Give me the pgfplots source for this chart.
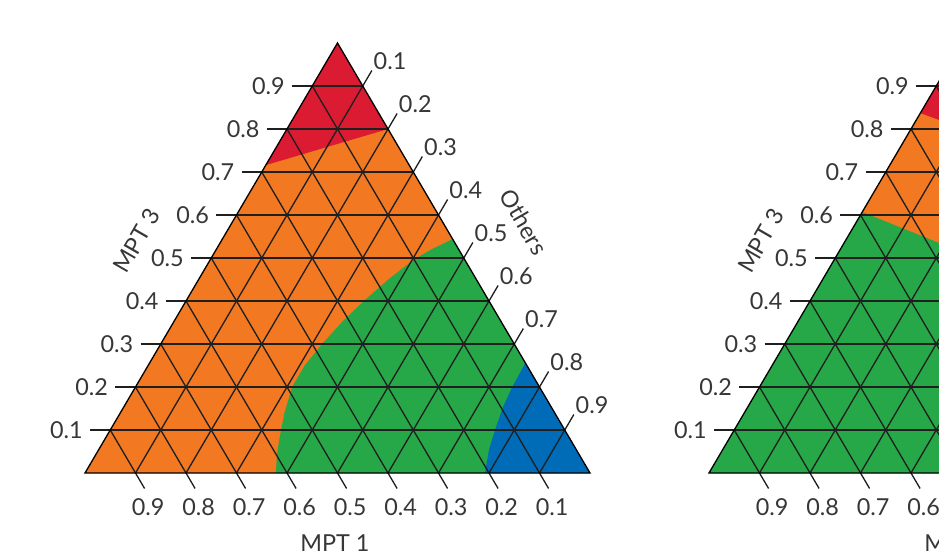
\documentclass[border=0pt]{standalone}
\usepackage{pgfplots}
\pgfplotsset{compat=1.18}
\usepackage{pgfplotstable}
\usepackage{fontspec}
\setmainfont{Lato}

\definecolor{cRed}{RGB}{218,27,50}
\definecolor{cOrange}{RGB}{242,121,34}
\definecolor{cGreen}{RGB}{39,168,72}
\definecolor{cBlue}{RGB}{0,107,182}
\definecolor{txt}{RGB}{55,55,55}

% region boundaries, ternary coordinates: o = Others, m = MPT 3
\pgfplotstableread{
o m
0 0.716
0.200 0.800
0 1
}\redA
\pgfplotstableread{
o m
0.378 0
0.359 0.042
0.346 0.077
0.325 0.140
0.310 0.200
0.310 0.251
0.320 0.302
0.334 0.353
0.353 0.402
0.375 0.449
0.402 0.495
0.427 0.521
0.456 0.544
1 0
}\greenA
\pgfplotstableread{
o m
0.792 0
0.773 0.054
0.762 0.100
0.751 0.153
0.746 0.200
0.744 0.256
1 0
}\blueA
\pgfplotstableread{
o m
0 0.837
0.252 0.748
0 1
}\redB
\pgfplotstableread{
o m
0 0
0 0.607
0.188 0.535
0.642 0.358
1 0
}\greenB
\pgfplotstableread{
o m
0 0
1 0
0 1
}\whole

\pgfplotsset{
  tern/.style={hide axis, x=10.1cm, y=8.6cm, xmin=-0.2, xmax=1.1,
    ymin=-0.2, ymax=1.1, clip=false, anchor=origin},
  region/.style={draw=none, fill=#1, mark=none},
}
\tikzset{
  tlab/.style={font=\fontsize{13.3}{15}\selectfont, text=txt, inner sep=0pt},
  gridln/.style={line width=0.75pt, black!88},
}
\newcommand{\tplot}[2]{\addplot[region=#1] table[x expr=\thisrow{o}+0.5*\thisrow{m}, y=m] {#2};}

% grid, ticks, left and bottom labels
\newcommand{\ternframe}{%
  \pgfplotsinvokeforeach{1,...,9}{%
    \draw[gridln] (axis cs:{-0.04+##1/20},{##1/10}) -- (axis cs:{1-##1/20},{##1/10});
    \draw[gridln] (axis cs:{##1/10},0) -- (axis cs:{0.518+##1/20},{1.036-##1/10});
    \draw[gridln] (axis cs:{##1/10+0.018},-0.036) -- (axis cs:{##1/20},{##1/10});
    \node[tlab, anchor=east, xshift=-0.14cm] at (axis cs:{-0.04+##1/20},{##1/10}) {0.##1};
    \node[tlab, anchor=north, xshift=0.07cm, yshift=-0.2cm] at (axis cs:{##1/10+0.018},-0.036) {0.\the\numexpr10-##1\relax};
  }
  \draw[line width=0.75pt, black] (axis cs:0,0) -- (axis cs:1,0) -- (axis cs:0.5,1) -- cycle;
  \node[tlab] at (axis cs:0.495,-0.163) {MPT 1};
  \node[tlab, rotate=60] at (axis cs:0.103,0.540) {MPT 3};
}
% right-side labels
\newcommand{\ternright}{%
  \pgfplotsinvokeforeach{1,...,9}{%
    \node[tlab, anchor=south west, xshift=0.03cm] at (axis cs:{0.518+##1/20},{1.036-##1/10}) {0.##1};
  }
  \node[tlab, rotate=-60] at (axis cs:0.869,0.584) {Others};
}

\begin{document}
\begin{tikzpicture}
\useasboundingbox (-1.7cm,-1.64cm) rectangle (17.08cm,9.46cm);
\clip (-1.7cm,-1.64cm) rectangle (17.08cm,9.46cm);
\begin{axis}[tern, at={(0,0)}]
  \tplot{cOrange}{\whole}
  \tplot{cGreen}{\greenA}
  \tplot{cBlue}{\blueA}
  \tplot{cRed}{\redA}
  \ternframe
  \ternright
\end{axis}
\begin{axis}[tern, at={(12.48cm,0)}]
  \tplot{cOrange}{\whole}
  \tplot{cGreen}{\greenB}
  \tplot{cRed}{\redB}
  \ternframe
\end{axis}
\end{tikzpicture}
\end{document}
